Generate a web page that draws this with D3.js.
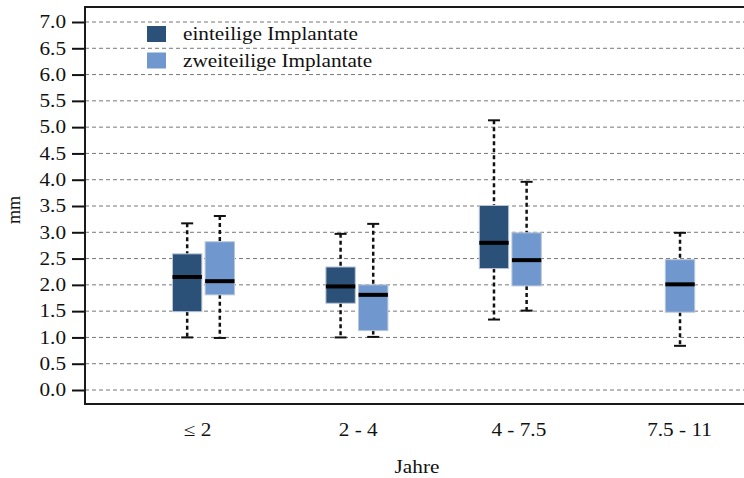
<!DOCTYPE html>
<html>
<head>
<meta charset="utf-8">
<script src="https://cdn.jsdelivr.net/npm/d3@7"></script>
<style>
  body { margin: 0; background: #fff; }
  text { font-family: "Liberation Serif", "Times New Roman", serif; fill: #111; }
</style>
</head>
<body>
<div class="boxChart"></div>
<script>
// categories and series
var categories = ["\u2264 2", "2 - 4", "4 - 7.5", "7.5 - 11"];
var seriesNames = ["einteilige Implantate", "zweiteilige Implantate"];
var yTicks = [0, 0.5, 1, 1.5, 2, 2.5, 3, 3.5, 4, 4.5, 5, 5.5, 6, 6.5, 7];

// [min, q1, median, q3, max] per category, null = no data
var einteilig = [
  [1.00, 1.49, 2.15, 2.59, 3.17],
  [1.00, 1.65, 1.97, 2.34, 2.97],
  [1.34, 2.31, 2.80, 3.51, 5.13],
  null
];
var zweiteilig = [
  [0.99, 1.81, 2.07, 2.82, 3.31],
  [1.01, 1.13, 1.81, 2.00, 3.16],
  [1.51, 1.98, 2.47, 2.99, 3.96],
  [0.84, 1.48, 2.01, 2.48, 2.99]
];

var colors = ["#2c5179", "#7098cf"];

var W = 744, H = 478;
var sx = 1.18; // text in the original is a bit wide
var svg = d3.select(".boxChart").append("svg")
  .attr("width", W).attr("height", H);

var y = d3.scaleLinear().domain([0, 7]).range([390, 22]);

// group positions for boxes
var x = d3.scaleBand().domain(categories).range([126.8, 740.4]);
// positions for the category labels
var xLab = d3.scalePoint().domain(categories).range([197, 679]);
var sub = d3.scaleBand().domain([0, 1]).range([-31, 31]).paddingInner(0.1);

var frameLeft = 85, frameTop = 7, frameBottom = 404;

// grid lines
svg.append("g").selectAll("line")
  .data(yTicks)
  .enter().append("line")
    .attr("x1", frameLeft).attr("x2", W)
    .attr("y1", function(d) { return y(d); })
    .attr("y2", function(d) { return y(d); })
    .attr("stroke", "#777")
    .attr("stroke-width", 1)
    .attr("stroke-dasharray", "4,3");

// y axis
var yAxis = svg.append("g")
  .attr("transform", "translate(" + frameLeft + ",0)")
  .call(d3.axisLeft(y).tickValues(yTicks).tickFormat(d3.format(".1f")).tickSize(13).tickPadding(6));
yAxis.select(".domain").remove();
yAxis.selectAll(".tick line").attr("stroke", "#111").attr("stroke-width", 2);
yAxis.selectAll("text")
  .attr("font-size", "18px").attr("font-family", "Liberation Serif").attr("fill", "#111")
  .attr("x", -19 / sx)
  .attr("transform", "scale(" + sx + ",1)");

// x labels
var xAxis = svg.append("g")
  .attr("transform", "translate(0," + frameBottom + ")")
  .call(d3.axisBottom(xLab).tickSize(0).tickPadding(19));
xAxis.select(".domain").remove();
xAxis.selectAll("text")
  .attr("font-size", "18px").attr("font-family", "Liberation Serif").attr("fill", "#111")
  .attr("transform", "scale(" + sx + ",1)");

// frame
svg.append("path")
  .attr("d", "M" + W + "," + frameTop + "H" + frameLeft + "V" + frameBottom + "H" + W)
  .attr("fill", "none")
  .attr("stroke", "#1a1a1a")
  .attr("stroke-width", 2);

// axis titles
svg.append("text")
  .attr("transform", "translate(417,473) scale(" + sx + ",1)")
  .attr("text-anchor", "middle")
  .attr("font-size", "18px")
  .text("Jahre");

svg.append("text")
  .attr("transform", "translate(20,210) rotate(-90)")
  .attr("text-anchor", "middle")
  .attr("font-size", "18px")
  .text("mm");

// boxes
var all = [einteilig, zweiteilig];
all.forEach(function(series, s) {
  var data = [];
  series.forEach(function(v, i) { if (v) data.push({cat: categories[i], v: v}); });

  var g = svg.append("g").selectAll("g")
    .data(data)
    .enter().append("g")
      .attr("transform", function(d) { return "translate(" + (x(d.cat) + x.bandwidth() / 2 + sub(s)) + ",0)"; });

  var bw = sub.bandwidth();
  var cx = bw / 2;

  // whiskers
  g.append("line")
    .attr("x1", cx).attr("x2", cx)
    .attr("y1", function(d) { return y(d.v[4]); })
    .attr("y2", function(d) { return y(d.v[3]); })
    .attr("stroke", "#111").attr("stroke-width", 2.5).attr("stroke-dasharray", "4,3");
  g.append("line")
    .attr("x1", cx).attr("x2", cx)
    .attr("y1", function(d) { return y(d.v[1]); })
    .attr("y2", function(d) { return y(d.v[0]); })
    .attr("stroke", "#111").attr("stroke-width", 2.5).attr("stroke-dasharray", "4,3");
  // caps
  g.selectAll(".cap")
    .data(function(d) { return [d.v[0], d.v[4]]; })
    .enter().append("line")
      .attr("class", "cap")
      .attr("x1", cx - 6).attr("x2", cx + 6)
      .attr("y1", function(d) { return y(d); })
      .attr("y2", function(d) { return y(d); })
      .attr("stroke", "#111").attr("stroke-width", 2);

  g.append("rect")
    .attr("x", 0)
    .attr("width", bw)
    .attr("y", function(d) { return y(d.v[3]); })
    .attr("height", function(d) { return y(d.v[1]) - y(d.v[3]); })
    .attr("fill", colors[s])
    .attr("stroke", "#b9c6d8")
    .attr("stroke-width", 1);

  g.append("line")
    .attr("x1", 0).attr("x2", bw)
    .attr("y1", function(d) { return y(d.v[2]); })
    .attr("y2", function(d) { return y(d.v[2]); })
    .attr("stroke", "#000").attr("stroke-width", 4);
});

// legend
var lg = svg.append("g").selectAll("g")
  .data(seriesNames)
  .enter().append("g")
    .attr("transform", function(d, i) { return "translate(147," + (26 + i * 26.5) + ")"; });
lg.append("rect")
  .attr("width", 19).attr("height", 16)
  .attr("fill", function(d, i) { return colors[i]; });
lg.append("text")
  .attr("transform", "translate(36,14) scale(" + sx + ",1)")
  .attr("font-size", "18px")
  .text(function(d) { return d; });
</script>
</body>
</html>
